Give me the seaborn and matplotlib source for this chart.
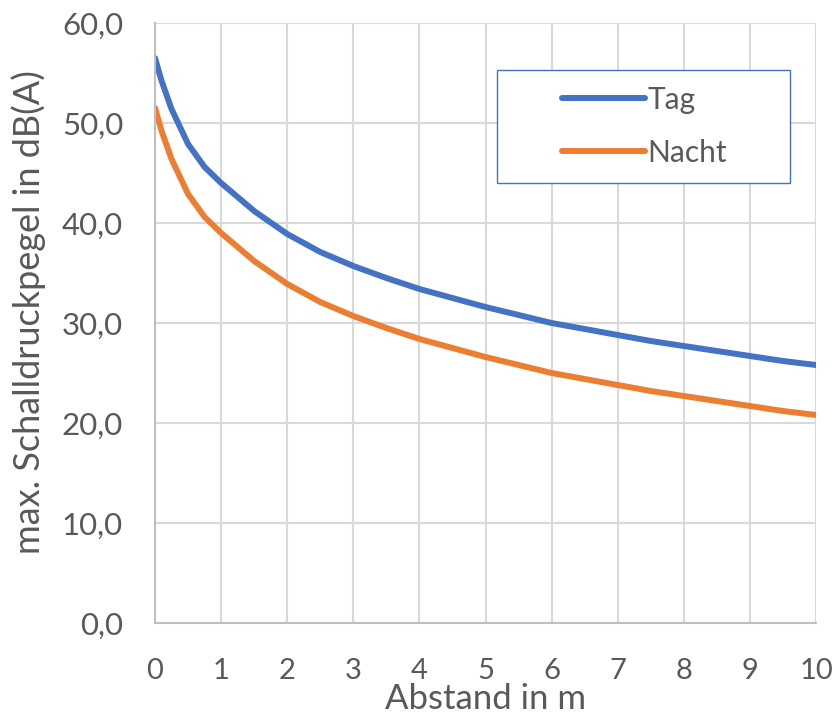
import matplotlib
matplotlib.use("Agg")
import matplotlib.pyplot as plt
import seaborn as sns
import pandas as pd
from matplotlib.patches import Rectangle
from matplotlib.ticker import FuncFormatter

# ---- data ----
abstand = [0, 0.1, 0.25, 0.5, 0.75, 1, 1.5, 2, 2.5, 3, 3.5, 4, 4.5, 5, 5.5,
           6, 6.5, 7, 7.5, 8, 8.5, 9, 9.5, 10]
tag = [56.5, 54.2, 51.4, 47.9, 45.6, 44.0, 41.2, 38.9, 37.1, 35.7, 34.5, 33.4,
       32.5, 31.6, 30.8, 30.0, 29.4, 28.8, 28.2, 27.7, 27.2, 26.7, 26.2, 25.8]
nacht = [51.5, 49.2, 46.4, 42.9, 40.6, 39.0, 36.2, 33.9, 32.1, 30.7, 29.5,
         28.4, 27.5, 26.6, 25.8, 25.0, 24.4, 23.8, 23.2, 22.7, 22.2, 21.7,
         21.2, 20.8]
series_names = ["Tag", "Nacht"]
x_ticks = list(range(0, 11))
y_ticks = [0, 10, 20, 30, 40, 50, 60]
x_label = "Abstand in m"
y_label = "max. Schalldruckpegel in dB(A)"

df = pd.DataFrame({
    "Abstand": abstand * 2,
    "Pegel": tag + nacht,
    "Serie": [series_names[0]] * len(tag) + [series_names[1]] * len(nacht),
})

sns.set_theme(style="white")
plt.rcParams["font.family"] = ["Lato", "DejaVu Sans"]

TXT = "#595959"
GRID = "#d9d9d9"
palette = {"Tag": "#4472C4", "Nacht": "#ED7D31"}

fig = plt.figure(figsize=(8.36, 7.19), dpi=100)
ax = fig.add_axes([155 / 836, 1 - 623 / 719, 661 / 836, 600 / 719])

sns.lineplot(data=df, x="Abstand", y="Pegel", hue="Serie", palette=palette,
             linewidth=4.3, ax=ax, legend=True)

ax.set_xlim(0, 10)
ax.set_ylim(0, 60)
ax.set_xticks(x_ticks)
ax.set_yticks(y_ticks)
ax.yaxis.set_major_formatter(FuncFormatter(lambda v, p: f"{v:.1f}".replace(".", ",")))
ax.grid(True, color=GRID, linewidth=1.5)
ax.set_axisbelow(True)
for s in ["top", "right"]:
    ax.spines[s].set_visible(False)
for s in ["left", "bottom"]:
    ax.spines[s].set_color("#bfbfbf")
    ax.spines[s].set_linewidth(1.5)
ax.tick_params(axis="x", length=0, labelsize=21, labelcolor=TXT, pad=25)
ax.tick_params(axis="y", length=0, labelsize=22.5, labelcolor=TXT, pad=23)

ax.set_xlabel(x_label, fontsize=25, color=TXT)
ax.set_ylabel(y_label, fontsize=26, color=TXT)
ax.xaxis.set_label_coords(0.5, -0.1)
ax.yaxis.set_label_coords(-0.165, 0.518)

handles, labels = ax.get_legend_handles_labels()
ax.get_legend().remove()
leg = ax.legend(handles, labels, loc="center", bbox_to_anchor=(0.741, 0.828),
                frameon=False, fontsize=21.5, handlelength=2.75, handletextpad=0.1,
                labelspacing=0.85, labelcolor=TXT)
for h in leg.legend_handles:
    h.set_linewidth(4.3)
ax.add_patch(Rectangle((0.517, 0.733), 0.444, 0.189, transform=ax.transAxes,
                       fill=True, facecolor="white", edgecolor="#4472C4",
                       linewidth=1.0, zorder=4))
leg.set_zorder(5)

fig.savefig("out.png", dpi=100)
